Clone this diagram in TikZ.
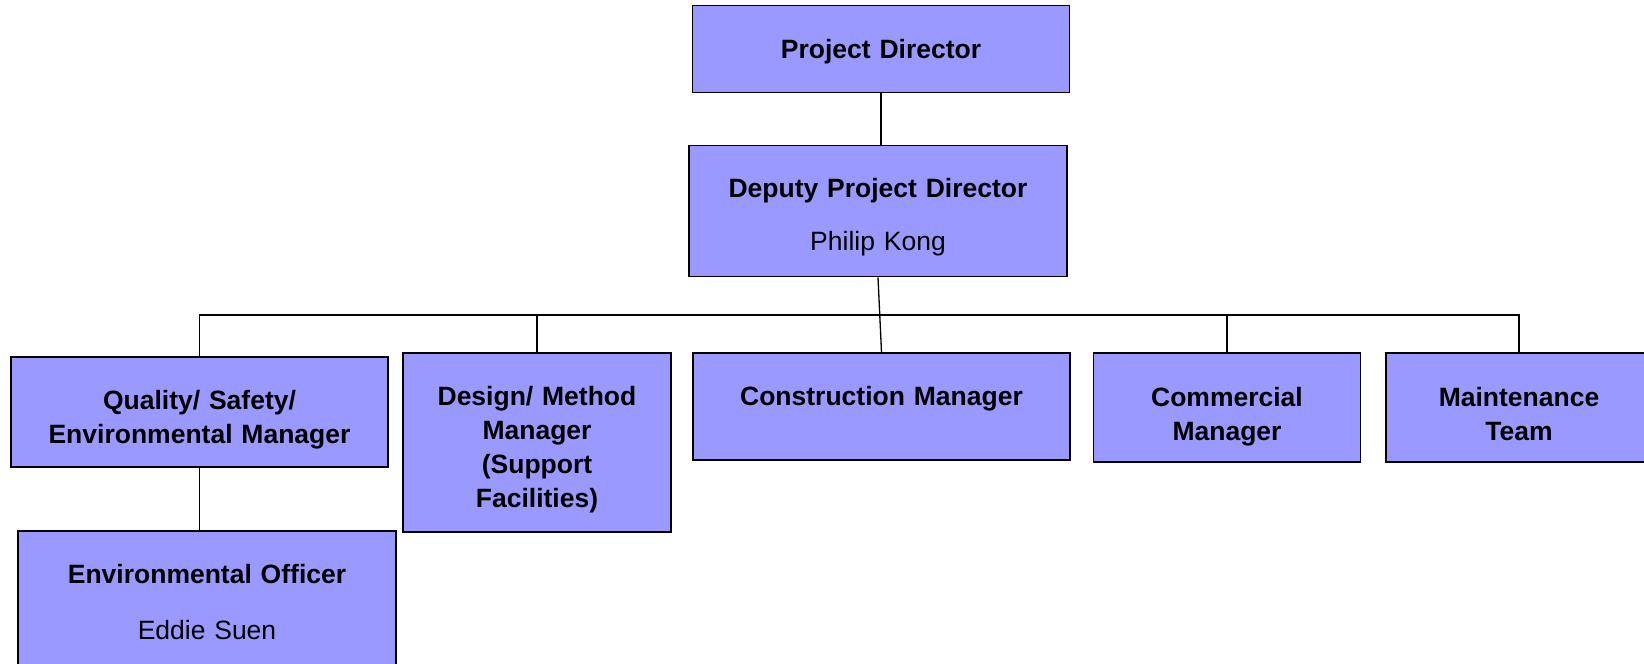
\documentclass[tikz,border=0pt]{standalone}
\usepackage{fontspec}
\setmainfont{Liberation Sans}
\definecolor{boxfill}{HTML}{9999FF}
\tikzset{
  box/.style={draw=black, line width=1.7pt, fill=boxfill, inner sep=0pt},
  txt/.style={anchor=base, align=center, text width=#1, inner sep=0pt,
    font=\fontsize{26.5}{34}\selectfont},
  txt/.default=360pt,
  link/.style={line width=1.3pt},
}
\begin{document}
\begin{tikzpicture}[x=1pt, y=-1pt]
    \useasboundingbox (0,0) rectangle (1644,664);
    % top of the chart
    \node[box, minimum width=377pt, minimum height=87pt] (pd) at (881,49) {};
    \node[txt] (pd-t) at (881,58) {\textbf{Project Director}};
    \node[box, minimum width=378pt, minimum height=131pt] (dpd) at (878,211) {};
    \node[txt] (dpd-t) at (878,197.5) {\textbf{Deputy Project Director}\\[18.5pt] Philip Kong};
    % managers
    \node[box, minimum width=377pt, minimum height=110pt] (qse) at (199.5,412) {};
    \node[txt] (qse-t) at (199.5,409) {\textbf{Quality/ Safety/}\\ \textbf{Environmental Manager}};
    \node[box, minimum width=268pt, minimum height=179pt] (dmm) at (537,442.5) {};
    \node[txt=250pt] (dmm-t) at (537,405) {\textbf{Design/ Method}\\ \textbf{Manager}\\ \textbf{(Support}\\ \textbf{Facilities)}};
    \node[box, minimum width=377pt, minimum height=107pt] (cm) at (881.5,406.5) {};
    \node[txt] (cm-t) at (881.5,405) {\textbf{Construction Manager}};
    \node[box, minimum width=267pt, minimum height=109pt] (com) at (1227,407.5) {};
    \node[txt=250pt] (com-t) at (1227,406) {\textbf{Commercial}\\ \textbf{Manager}};
    \node[box, minimum width=266pt, minimum height=109pt] (mt) at (1519,407.5) {};
    \node[txt=250pt] (mt-t) at (1519,406) {\textbf{Maintenance}\\ \textbf{Team}};
    % officer
    \node[box, minimum width=378pt, minimum height=140pt] (eo) at (207,601) {};
    \node[txt] (eo-t) at (207,583) {\textbf{Environmental Officer}\\[22pt] Eddie Suen};
    % connectors
    \coordinate (bus) at (878,315);
    \draw[link] (pd.south) -- (pd.south |- dpd.north);
    \draw[link] (dpd.south) -- (cm.north);
    \draw[link] (qse.north) -- (qse.north |- bus) -- (mt.north |- bus) -- (mt.north);
    \draw[link] (dmm.north) -- (dmm.north |- bus);
    \draw[link] (com.north) -- (com.north |- bus);
    \draw[link] (qse.south) -- (qse.south |- eo.north);
\end{tikzpicture}
\end{document}
